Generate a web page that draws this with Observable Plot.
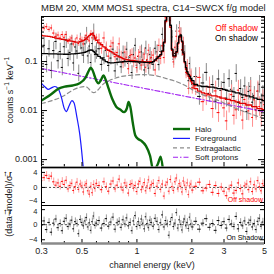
<!DOCTYPE html>
<html><head><meta charset="utf-8">
<script src="https://cdn.jsdelivr.net/npm/d3@7"></script>
<script src="https://cdn.jsdelivr.net/npm/@observablehq/plot@0.6"></script>
<style>
body{margin:0;background:#fff;font-family:"Liberation Sans",Arial,sans-serif;}
#chart{position:relative;width:274px;height:274px;overflow:hidden;background:#fff;}
#chart svg{position:absolute;left:0;}
.t{position:absolute;white-space:nowrap;color:#222;line-height:1;}
</style></head><body><div id="chart"></div>
<script>
// ---- channel energies (keV) ----
const bins = [0.30,0.31,0.32,0.33,0.34,0.35,0.36,0.37,0.38,0.39,
 0.40,0.41,0.42,0.43,0.44,0.45,0.46,0.47,0.48,0.49,
 0.50,0.51,0.52,0.53,0.54,0.55,0.56,0.57,0.58,0.59,
 0.60,0.62,0.64,0.66,0.68,0.70,0.72,0.74,0.76,0.78,
 0.80,0.82,0.84,0.86,0.88,0.90,0.92,0.94,0.96,0.98,
 1.00,1.02,1.04,1.06,1.08,1.10,1.12,1.14,1.16,1.18,
 1.20,1.23,1.26,1.29,1.32,1.35,1.38,1.41,1.44,1.47,
 1.50,1.53,1.56,1.59,1.62,1.65,1.68,1.71,1.74,1.77,
 1.80,1.83,1.86,1.89,1.92,1.95,1.98,2.01,2.1,2.2,
 2.3,2.4,2.5,2.6,2.7,2.8,2.9,3.0,3.1,3.2,
 3.3,3.4,3.5,3.6,3.7,3.8,3.9,4.0,4.1,4.2,
 4.3,4.4,4.5,4.6,4.7,4.8,4.9,5.0];
// ---- folded total models (counts s^-1 keV^-1) ----
const onModel = [0.145,0.145,0.145,0.144,0.144,0.143,0.143,0.142,0.142,0.142,
 0.141,0.141,0.141,0.142,0.143,0.144,0.145,0.146,0.147,0.148,
 0.150,0.152,0.155,0.160,0.165,0.170,0.172,0.170,0.160,0.150,
 0.140,0.128,0.117,0.108,0.100,0.095,0.094,0.094,0.095,0.096,
 0.097,0.098,0.099,0.100,0.100,0.101,0.101,0.100,0.100,0.099,
 0.099,0.098,0.098,0.097,0.097,0.096,0.096,0.096,0.095,0.095,
 0.095,0.100,0.108,0.118,0.128,0.138,0.165,0.250,0.700,2.000,
 2.000,0.550,0.180,0.130,0.130,0.160,0.240,0.330,0.350,0.260,
 0.150,0.100,0.075,0.062,0.055,0.050,0.045,0.041,0.034,0.032,
 0.031,0.031,0.030,0.030,0.029,0.028,0.028,0.027,0.026,0.025,
 0.025,0.024,0.023,0.023,0.022,0.021,0.021,0.020,0.020,0.019,
 0.019,0.018,0.018,0.017,0.017,0.017,0.016,0.016];
const offModel = [0.340,0.335,0.330,0.325,0.320,0.310,0.300,0.295,0.290,0.285,
 0.280,0.275,0.270,0.265,0.260,0.255,0.250,0.250,0.250,0.255,
 0.260,0.270,0.280,0.300,0.320,0.340,0.360,0.370,0.340,0.300,
 0.270,0.240,0.220,0.200,0.180,0.170,0.160,0.150,0.140,0.130,
 0.125,0.120,0.115,0.112,0.110,0.108,0.106,0.105,0.104,0.103,
 0.102,0.101,0.100,0.100,0.099,0.099,0.098,0.098,0.098,0.099,
 0.100,0.100,0.105,0.115,0.125,0.135,0.160,0.240,0.650,2.000,
 2.000,0.500,0.170,0.125,0.125,0.155,0.230,0.310,0.330,0.250,
 0.140,0.095,0.070,0.057,0.050,0.045,0.040,0.036,0.028,0.025,
 0.023,0.022,0.021,0.020,0.020,0.019,0.018,0.018,0.017,0.017,
 0.016,0.016,0.015,0.015,0.014,0.014,0.014,0.013,0.013,0.013,
 0.012,0.012,0.012,0.011,0.011,0.011,0.0105,0.0105];
// ---- residuals (data-model)/sigma ----
const offRes = [1.8,2.6,3.2,2.4,3.0,1.5,0.6,1.2,0.3,1.6,
 0.8,1.9,-0.4,0.5,1.1,-0.8,0.2,1.4,-0.5,0.9,
 0.4,-1.2,0.6,1.0,-0.9,-1.8,0.3,-1.4,0.8,-0.3,
 1.1,0.5,-0.6,1.5,0.2,-1.0,0.9,1.7,-0.4,0.6,
 2.2,0.1,-0.7,1.2,0.4,-1.5,0.8,1.0,-0.2,0.5,
 -1.1,0.9,1.6,-0.6,0.2,1.3,-0.9,0.4,2.0,-0.3,
 0.7,1.1,-1.6,0.3,1.8,-0.5,0.9,-2.3,0.6,1.4,
 -1.0,2.1,0.2,-0.8,1.5,2.5,-0.4,1.0,0.3,-1.2,
 1.7,0.6,-0.5,1.2,-1.9,0.4,0.9,-0.7,0.3,1.4,
 -0.9,-0.2,0.8,-1.3,0.5,-1.6,0.1,-1.0,-2.2,-0.4,
 0.6,-1.5,-0.8,1.2,-0.3,-1.7,0.4,0.9,-0.6,1.5,
 -1.1,0.7,-0.4,1.8,0.2,-0.9,1.0,0.5];
const onRes = [-0.2,1.0,-1.3,0.6,-2.0,0.4,1.5,-0.8,0.3,-1.6,
 0.9,1.7,-0.5,0.2,1.2,-1.1,0.8,0.3,-2.4,1.4,
 0.6,-0.3,1.0,1.9,-0.6,0.5,-1.5,0.8,2.3,-0.2,
 0.4,1.1,-0.9,0.3,1.6,-0.4,0.7,2.0,-1.2,0.5,
 0.9,-0.7,1.3,0.2,1.8,-0.3,0.6,-1.6,1.0,2.4,
 -0.5,0.8,-0.2,1.5,0.4,-1.1,2.1,0.3,-0.8,1.2,
 0.6,-0.4,1.7,0.9,-1.3,0.5,2.6,-0.6,1.1,0.2,
 -2.8,0.8,1.9,-0.5,0.4,3.2,-0.9,1.3,0.1,-1.4,
 0.7,1.5,-0.3,0.6,-1.0,2.0,0.2,-0.6,0.9,-1.2,
 0.4,1.6,-0.7,0.3,-1.5,1.1,-0.2,0.8,-0.9,1.4,
 0.2,-0.5,2.2,-1.1,0.6,-0.3,1.0,-1.8,0.5,1.2,
 -0.6,0.3,-1.3,0.9,1.7,-0.4,0.7,0.0];
// ---- 1-sigma errors, in dex, per energy band ----
const errEdges = [0.6, 1.3, 2.05, 5.0];
const offErrDex = [0.06, 0.12, 0.13, 0.20];
const onErrDex  = [0.17, 0.14, 0.13, 0.18];
// ---- model components ----
const haloE = [0.300,0.336,0.372,0.407,0.444,0.485,0.523,0.545,0.558,0.570,0.585,0.600,0.615,0.635,0.656,0.675,0.700,0.734,0.770,0.810,0.850,0.880,0.900,0.920,0.950,0.980,1.02,1.06,1.12,1.18,1.23,1.30,1.35,1.39];
const haloV = [0.016,0.021,0.028,0.031,0.0325,0.036,0.047,0.065,0.075,0.068,0.052,0.040,0.036,0.042,0.052,0.042,0.028,0.017,0.012,0.0105,0.0093,0.011,0.015,0.012,0.0055,0.0031,0.0026,0.0024,0.0019,0.0012,0.0006,0.0008,0.00115,0.0006];
const fgE = [0.300,0.315,0.327,0.340,0.355,0.370,0.385,0.400,0.410,0.425,0.440,0.452,0.470,0.485,0.497,0.510];
const fgV = [0.036,0.030,0.027,0.029,0.031,0.028,0.019,0.011,0.0095,0.0125,0.016,0.0145,0.007,0.0035,0.0016,0.0006];
const egE = [0.30,0.38,0.48,0.52,0.58,0.66,0.75,0.90,1.08,1.25,1.45,1.75,2.15,2.8,3.5,5.0];
const egV = [0.0139,0.0184,0.0295,0.031,0.0233,0.0356,0.045,0.052,0.054,0.052,0.045,0.0356,0.0233,0.016,0.011,0.0069];
const spE = [0.3, 1, 5];
const spV = [0.072, 0.0303, 0.0095];
// ---- ticks ----
const yMajor = [0.001, 0.01, 0.1];
const xLabelTicks = [0.3, 0.5, 1, 2, 3, 5];
const xMinorTicks = [0.4, 0.6, 0.7, 0.8, 0.9, 4];
const resTicks = [-4, 0, 4];

const FONT = '"Liberation Sans", Arial, sans-serif';
const yMinor = [0.001,0.01,0.1].flatMap(d => [2,3,4,5,6,7,8,9].map(k => k*d)).concat([0.0007,0.0008,0.0009]).filter(v => v < 0.83);

function band(E){ const i = errEdges.findIndex(e => E <= e); return i < 0 ? errEdges.length-1 : i; }
function spectrum(model, res, errDex){
  return bins.map((E,i) => {
    const d = errDex[band(E)];
    const y = model[i]*Math.pow(10, res[i]*d);
    return {E, m:model[i], y, ylo:y*Math.pow(10,-d), yhi:y*Math.pow(10,d),
      lo: i>0 ? Math.sqrt(bins[i-1]*E) : E, hi: i<bins.length-1 ? Math.sqrt(E*bins[i+1]) : E, r:res[i]};
  });
}
const off = spectrum(offModel, offRes, offErrDex);
const on = spectrum(onModel, onRes, onErrDex);
const comp = (E,V) => E.map((e,i) => ({E:e, v:V[i]}));

const W = 274, ML = 41, MR = 10;
const xScale = {type:"log", domain:[0.3,5], axis:null};
const baseStyle = {background:"transparent", overflow:"visible", fontFamily:FONT, fontSize:"9px", color:"#222"};

const chart = document.getElementById("chart");
function place(svg, top){ svg.style.top = top + "px"; svg.style.position = "absolute"; chart.appendChild(svg); }

// ---- main spectrum panel ----
const yDom = [0.00069, 0.83];
const p1 = Plot.plot({
  width: W, height: 168, marginLeft: ML, marginRight: MR, marginTop: 16, marginBottom: 1,
  style: baseStyle,
  x: xScale,
  y: {type:"log", domain: yDom, axis:null},
  marks: [
    Plot.ruleX(on, {x:"E", y1:"ylo", y2:"yhi", stroke:"#8a8a8a", strokeWidth:1, clip:true}),
    Plot.ruleY(on, {y:"y", x1:"lo", x2:"hi", stroke:"#000", strokeWidth:1, clip:true}),
    Plot.ruleX(off, {x:"E", y1:"ylo", y2:"yhi", stroke:"#ff8f8f", strokeWidth:1, clip:true}),
    Plot.ruleY(off, {y:"y", x1:"lo", x2:"hi", stroke:"#ff0000", strokeWidth:1, clip:true}),
    Plot.line(off, {x:"E", y:"m", curve:"step", stroke:"#e00000", strokeWidth:1.3, clip:true}),
    Plot.line(on, {x:"E", y:"m", curve:"step", stroke:"#000", strokeWidth:1.3, clip:true}),
    Plot.line(comp(spE,spV), {x:"E", y:"v", stroke:"#a020f0", strokeWidth:1.1, strokeDasharray:"5,2,1.5,2", clip:true}),
    Plot.line(comp(egE,egV), {x:"E", y:"v", stroke:"#8c8c8c", strokeWidth:1.2, strokeDasharray:"4,3", curve:"monotone-x", clip:true}),
    Plot.line(comp(fgE,fgV), {x:"E", y:"v", stroke:"#1a1aff", strokeWidth:1.2, curve:"monotone-x", clip:true}),
    Plot.line(comp(haloE,haloV), {x:"E", y:"v", stroke:"#0b6b0b", strokeWidth:2.4, curve:"monotone-x", clip:true}),
    Plot.axisY({ticks: yMajor, tickSize: 0, tickPadding: 4, tickFormat: d => String(d), fontSize: 9}),
    Plot.tickY(yMajor, {y: d => d, insetRight: 217, stroke:"#000"}),
    Plot.tickY(yMinor, {y: d => d, insetRight: 220, stroke:"#000"}),
    Plot.tickY(yMajor, {y: d => d, insetLeft: 217, stroke:"#000"}),
    Plot.tickY(yMinor, {y: d => d, insetLeft: 220, stroke:"#000"}),
    Plot.tickX(xLabelTicks, {x: d => d, insetTop: 146, stroke:"#000"}),
    Plot.tickX(xMinorTicks, {x: d => d, insetTop: 148, stroke:"#000"}),
    Plot.frame({stroke:"#000", strokeWidth:1}),
    Plot.ruleY([yDom[0]], {stroke:"#8a8a8a", strokeWidth:2.5})
  ]
});
place(p1, 0);

// ---- residual panels ----
function resPanel(data, dom, light, dark, top, bottomAxis, shiftTick, shiftDy){
  const h = 38;
  const marks = [
    Plot.ruleY([0], {stroke:"#000", strokeWidth:0.7, strokeDasharray:"2,2"}),
    Plot.ruleX(data, {x:"E", y1: d => d.r-1, y2: d => d.r+1, stroke: light, strokeWidth:1, clip:true}),
    Plot.ruleY(data, {y:"r", x1:"lo", x2:"hi", stroke: dark, strokeWidth:1, clip:true}),
    Plot.axisY({ticks: resTicks.filter(t => t !== shiftTick), tickSize: 0, tickPadding: 4, fontSize: 7.5}),
    Plot.axisY({ticks: [shiftTick], tickSize: 0, tickPadding: 4, fontSize: 7.5, dy: shiftDy}),
    Plot.tickY(resTicks, {y: d => d, insetRight: 219, stroke:"#000"}),
    Plot.tickY(resTicks, {y: d => d, insetLeft: 219, stroke:"#000"}),
    Plot.frame({stroke:"#000", strokeWidth:1})
  ];
  if (bottomAxis) {
    marks.push(Plot.tickX(xLabelTicks, {x: d => d, insetTop: h-4, stroke:"#000"}));
    marks.push(Plot.tickX(xMinorTicks, {x: d => d, insetTop: h-2, stroke:"#000"}));
    marks.push(Plot.ruleY([dom[0]], {stroke:"#8a8a8a", strokeWidth:2.5}));
    marks.push(Plot.axisX({ticks: xLabelTicks, tickSize: 0, tickPadding: 4, tickFormat: d => String(d), fontSize: 9}));
  }
  const p = Plot.plot({
    width: W, height: h + (bottomAxis ? 16 : 0), marginLeft: ML, marginRight: MR, marginTop: 0, marginBottom: bottomAxis ? 16 : 0,
    style: baseStyle, x: xScale, y: {domain: dom, axis: null}, marks
  });
  place(p, top);
}
resPanel(off, [-4.8, 5.3], "#ff9a9a", "#ff0000", 167, false, -4, -1.8);
resPanel(on, [-5.0, 5.1], "#9a9a9a", "#000000", 205, true, 4, 1.8);

// ---- texts and legends ----
function txt(html, css){ const d = document.createElement("div"); d.className = "t"; d.innerHTML = html; Object.assign(d.style, css); chart.appendChild(d); return d; }
txt("MBM 20, XMM MOS1 spectra, C14\u2212SWCX f/g model", {left:"41px", width:"223px", textAlign:"center", top:"3px", fontSize:"9.5px"});
txt("counts s<sup style='font-size:6.5px'>\u22121</sup> keV<sup style='font-size:6.5px'>\u22121</sup>", {left:"9px", top:"90px", fontSize:"9px", transform:"translate(-50%,-50%) rotate(-90deg)"});
txt("(data\u2212model)/\u03c3", {left:"9px", top:"206px", fontSize:"9px", transform:"translate(-50%,-50%) rotate(-90deg)"});
txt("channel energy (keV)", {left:"152px", top:"265px", fontSize:"9px", transform:"translate(-50%,-50%)"});
txt("Off shadow", {right:"16px", top:"24px", fontSize:"8.5px", color:"#ff0000"});
txt("On shadow", {right:"16px", top:"34px", fontSize:"8.5px", color:"#000"});
txt("Off shadow", {right:"11px", top:"196px", fontSize:"7px", color:"#ff0000"});
txt("On Shadow", {right:"11px", top:"234px", fontSize:"7px", color:"#000"});

const leg = [
  {name:"Halo", stroke:"#0b6b0b", w:2.4, dash:null},
  {name:"Foreground", stroke:"#1a1aff", w:1.2, dash:null},
  {name:"Extragalactic", stroke:"#8c8c8c", w:1.2, dash:"4,3"},
  {name:"Soft protons", stroke:"#a020f0", w:1.1, dash:"5,2,1.5,2"}
];
const ls = d3.select(chart).append("svg").attr("width", W).attr("height", W)
  .style("position","absolute").style("top","0px").style("left","0px").style("pointer-events","none");
leg.forEach((d,i) => {
  const y = 129 + i*9.4;
  ls.append("line").attr("x1",173).attr("x2",190).attr("y1",y).attr("y2",y)
    .attr("stroke",d.stroke).attr("stroke-width",d.w).attr("stroke-dasharray",d.dash);
  ls.append("text").attr("x",195).attr("y",y).attr("dy","0.35em").attr("font-size","8px")
    .attr("font-family",FONT).attr("fill","#222").text(d.name);
});
</script></body></html>
